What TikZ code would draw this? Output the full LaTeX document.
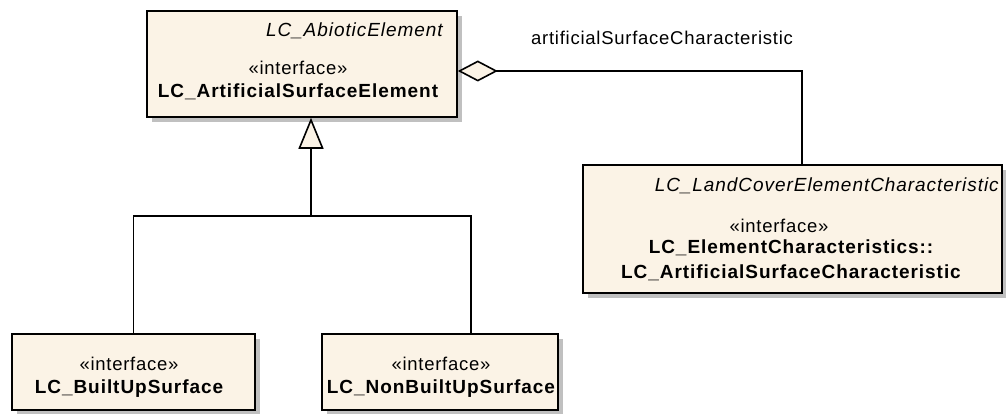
\documentclass[tikz,border=0pt]{standalone}
\usepackage{fontspec}
\setmainfont{Liberation Sans}
\newfontfamily\regsp[LetterSpace=4]{Liberation Sans}
\newfontfamily\widesp[LetterSpace=5]{Liberation Sans}
\usetikzlibrary{arrows.meta,shadows}
\definecolor{cream}{RGB}{251,243,230}
\definecolor{shadowgray}{RGB}{192,192,192}
\begin{document}
\begin{tikzpicture}[x=1pt,y=-1pt,
  box/.style={draw=black, line width=1.6pt, fill=cream, inner sep=0pt,
    general shadow={fill=shadowgray, shadow xshift=5pt, shadow yshift=-5pt}},
  txt/.style={inner sep=0pt, font=\regsp\fontsize{18.5}{21}\selectfont},
  ital/.style={inner sep=0pt, font=\widesp\itshape\fontsize{19}{21}\selectfont},
  bold/.style={inner sep=0pt, font=\widesp\bfseries\fontsize{19}{21}\selectfont},
  conn/.style={draw=black, line width=1.6pt}]
\useasboundingbox (0,0) rectangle (1006,414);
% boxes
\node[box, minimum width=310pt, minimum height=106pt] (A) at (302,64) {};
\node[box, minimum width=419pt, minimum height=128pt] (B) at (792.5,229) {};
\node[box, minimum width=243pt, minimum height=76pt] (C) at (133.5,372) {};
\node[box, minimum width=236pt, minimum height=76pt] (D) at (440,372) {};
% texts A
\node[ital, anchor=base east] (a1) at (443,37) {LC\_AbioticElement};
\node[txt, anchor=base] (a2) at (298,75) {«interface»};
\node[bold, anchor=base] (a3) at (298,98) {LC\_ArtificialSurfaceElement};
% texts B
\node[ital, anchor=base east] (b1) at (999,192) {LC\_LandCoverElementCharacteristic};
\node[txt, anchor=base] (b2) at (779,233) {«interface»};
\node[bold, anchor=base] (b3) at (791,253) {LC\_ElementCharacteristics::};
\node[bold, anchor=base] (b4) at (791,278) {LC\_ArtificialSurfaceCharacteristic};
% texts C, D
\node[txt, anchor=base] (c1) at (129,370) {«interface»};
\node[bold, anchor=base] (c2) at (129,393) {LC\_BuiltUpSurface};
\node[txt, anchor=base] (d1) at (441,370) {«interface»};
\node[bold, anchor=base] (d2) at (441,393) {LC\_NonBuiltUpSurface};
% generalization
\coordinate (j) at (311,216);
\draw[conn] (C.north) |- (j) -| (D.north -| 471,0);
\draw[conn, -{Triangle[fill=cream, length=31pt, width=25pt]}] (j) -- (A.south -| j);
% aggregation
\draw[conn, {Diamond[fill=cream, length=40pt, width=21pt]}-] (A.east |- 0,71) -| (B.north -| 802,0);
\node[txt, anchor=base west] (lbl) at (531,45) {artificialSurfaceCharacteristic};
\end{tikzpicture}
\end{document}
